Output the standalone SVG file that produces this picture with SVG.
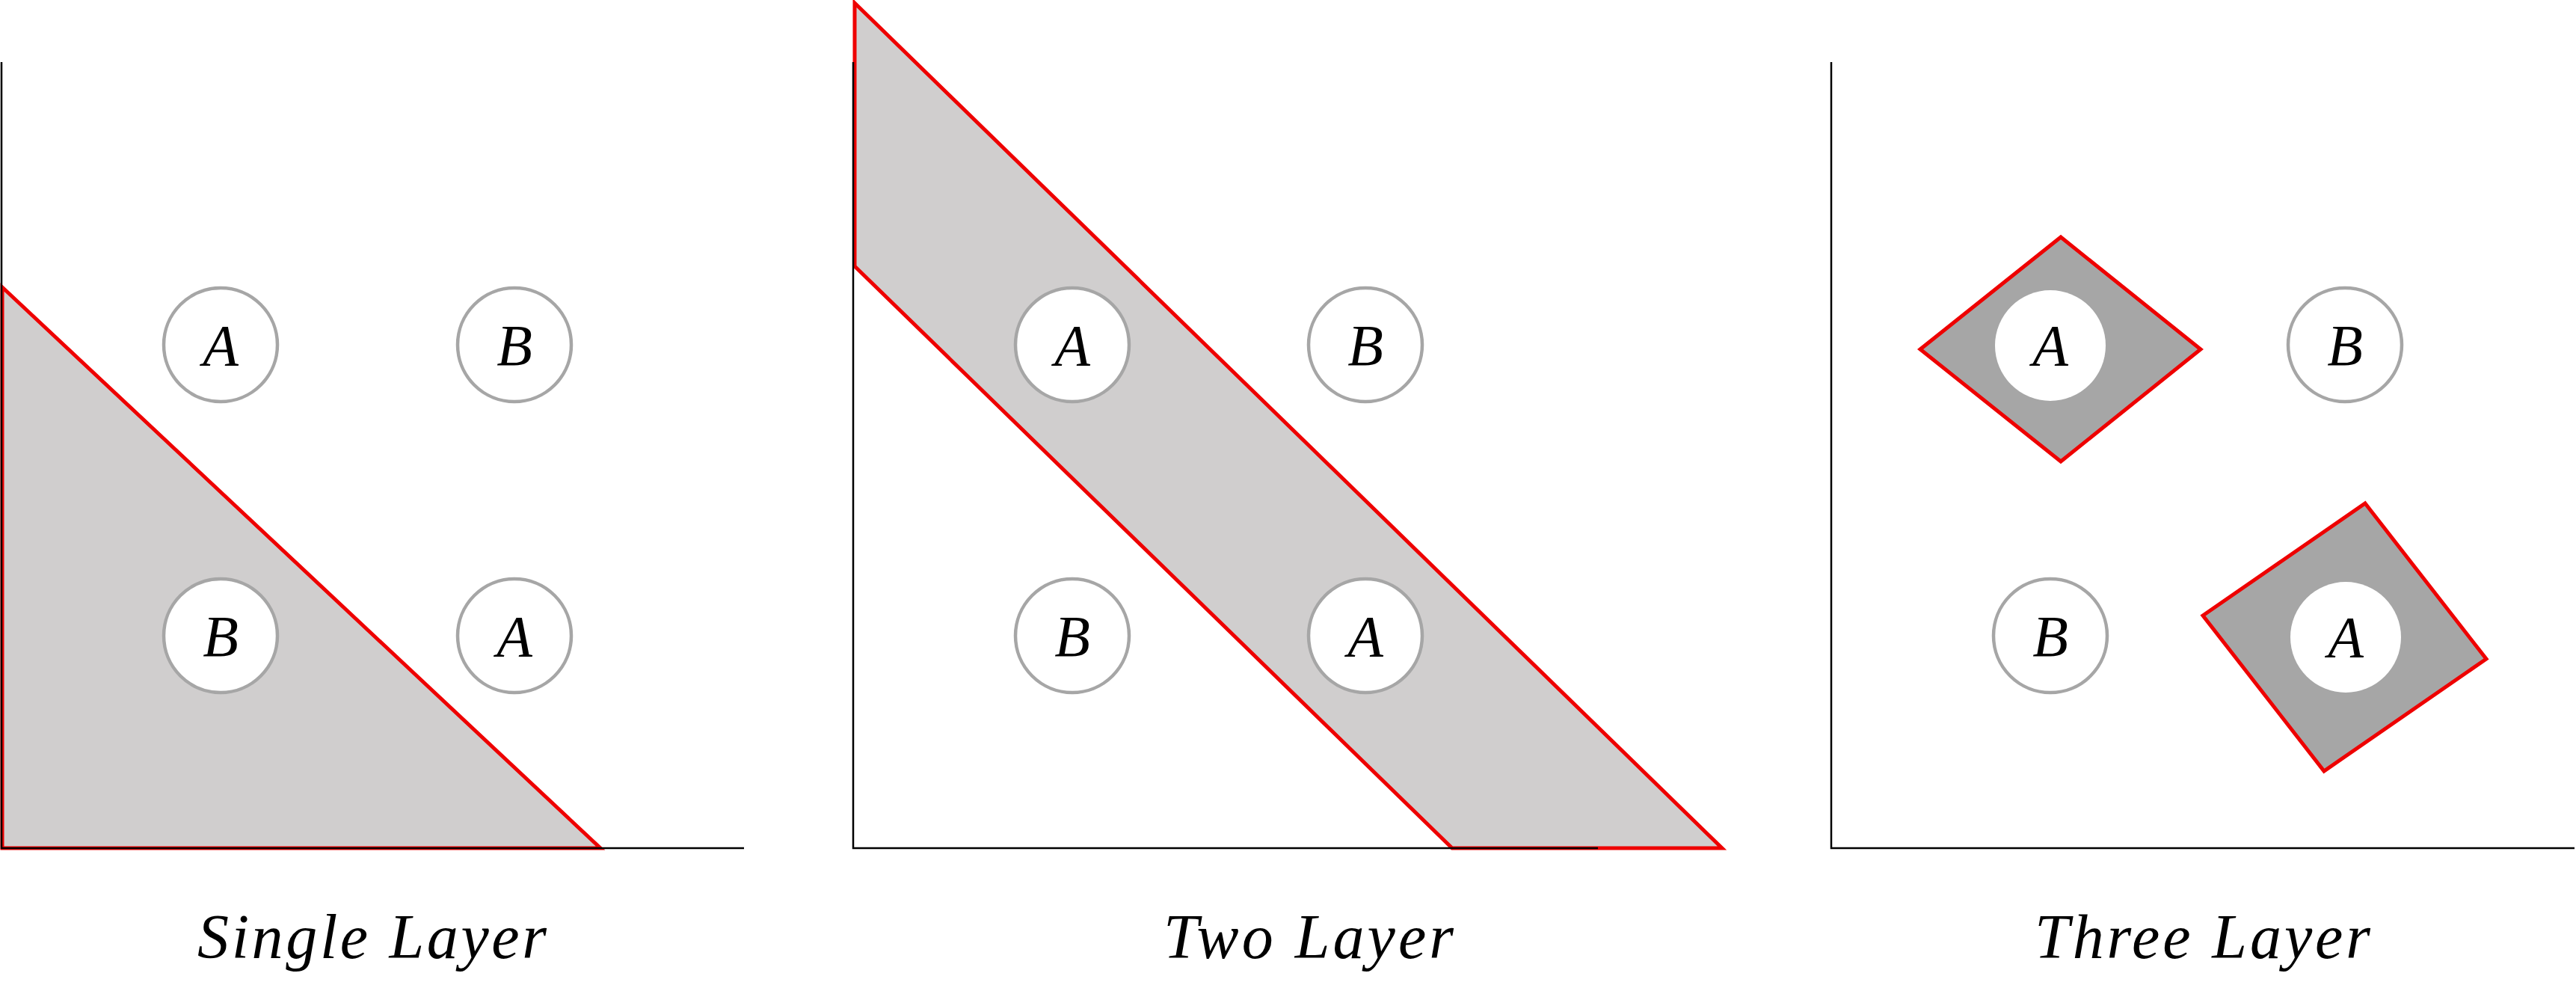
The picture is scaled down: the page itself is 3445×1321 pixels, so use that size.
<svg xmlns="http://www.w3.org/2000/svg" width="3445" height="1321" viewBox="0 0 3445 1321">
<style>
.region{stroke:#ee0000;stroke-width:5;stroke-linejoin:miter}
.light{fill:#d0cece}
.dark{fill:#a6a6a6}
.axis{stroke:#000;stroke-width:2.5;fill:none}
.ring{fill:#fff;stroke:#a6a6a6;stroke-width:4.5}
.hole{fill:#fff}
.lbl{font-family:"Liberation Serif","Times New Roman",serif;font-style:italic;font-size:78px;fill:#000;text-anchor:middle}
.title{font-family:"Liberation Serif","Times New Roman",serif;font-style:italic;font-size:84px;fill:#000}
</style>
<rect width="3445" height="1321" fill="#fff"/>

<g id="panel-single">
  <polygon id="single-region" class="region light" points="3,384 803,1134 3,1134"/>
  <g id="s-a1"><circle class="ring" cx="295" cy="461" r="76"/><text class="lbl" x="295" y="488">A</text></g>
  <g id="s-b1"><circle class="ring" cx="688" cy="461" r="76"/><text class="lbl" x="688" y="488">B</text></g>
  <g id="s-b2"><circle class="ring" cx="295" cy="850" r="76"/><text class="lbl" x="295" y="877">B</text></g>
  <g id="s-a2"><circle class="ring" cx="688" cy="850" r="76"/><text class="lbl" x="688" y="877">A</text></g>
  <path class="axis" d="M2,83 V1134 H995"/>
  <text class="title" x="264" y="1281" textLength="467" lengthAdjust="spacing">Single Layer</text>
</g>

<g id="panel-two">
  <polygon id="two-region" class="region light" points="1143,4 2303,1134 1942,1134 1143,356"/>
  <g id="t-a1"><circle class="ring" cx="1434" cy="461" r="76"/><text class="lbl" x="1434" y="488">A</text></g>
  <g id="t-b1"><circle class="ring" cx="1826" cy="461" r="76"/><text class="lbl" x="1826" y="488">B</text></g>
  <g id="t-b2"><circle class="ring" cx="1434" cy="850" r="76"/><text class="lbl" x="1434" y="877">B</text></g>
  <g id="t-a2"><circle class="ring" cx="1826" cy="850" r="76"/><text class="lbl" x="1826" y="877">A</text></g>
  <path class="axis" d="M1141,83 V1134 H2137"/>
  <text class="title" x="1556" y="1281" textLength="388" lengthAdjust="spacing">Two Layer</text>
</g>

<g id="panel-three">
  <polygon id="three-region-1" class="region dark" points="2568,467 2756,317 2943,467 2756,617"/>
  <polygon id="three-region-2" class="region dark" points="3163,673 3325,881 3108,1031 2946,823"/>
  <g id="r-a1"><circle class="hole" cx="2742" cy="462" r="74"/><text class="lbl" x="2742" y="488">A</text></g>
  <g id="r-b1"><circle class="ring" cx="3136" cy="461" r="76"/><text class="lbl" x="3136" y="488">B</text></g>
  <g id="r-b2"><circle class="ring" cx="2742" cy="850" r="76"/><text class="lbl" x="2742" y="877">B</text></g>
  <g id="r-a2"><circle class="hole" cx="3137" cy="852" r="74"/><text class="lbl" x="3137" y="878">A</text></g>
  <path class="axis" d="M2449,83 V1134 H3443"/>
  <text class="title" x="2721" y="1281" textLength="449" lengthAdjust="spacing">Three Layer</text>
</g>
</svg>
